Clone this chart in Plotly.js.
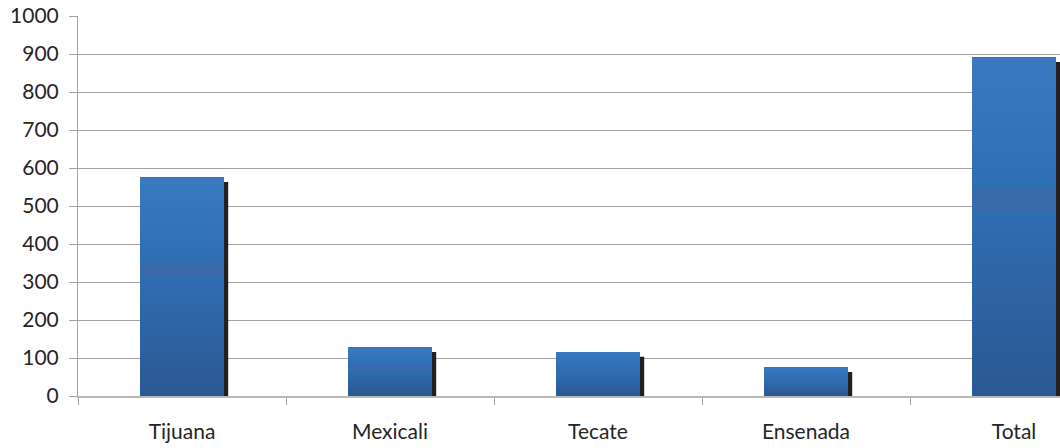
<!DOCTYPE html>
<html>
<head>
<meta charset="utf-8">
<script src="https://cdn.plot.ly/plotly-3.0.1.min.js"></script>
<style>
  html, body { margin: 0; padding: 0; background: #fff; }
  #chart { width: 1060px; height: 448px; }
</style>
</head>
<body>
<div id="chart"></div>
<script>
// Municipalities of Baja California and their total
const categories = ['Tijuana', 'Mexicali', 'Tecate', 'Ensenada', 'Total'];
const values = [576, 129, 116, 76, 892];
const yTicks = [0, 100, 200, 300, 400, 500, 600, 700, 800, 900, 1000];

const barWidth = 0.404;          // fraction of a category slot
const shadowShift = 0.02;        // drop shadow offset to the right (category units)
const shadowDrop = 13;           // drop shadow offset downwards (value units)

const fontFamily = 'Lato, "Open Sans", sans-serif';
const gridGrey = '#a3a3a3';

const shadow = {
  type: 'bar',
  x: categories,
  y: values.map(v => v - shadowDrop),
  width: barWidth,
  offset: -barWidth / 2 + shadowShift,
  marker: { color: '#231f20', line: { width: 0 } },
  hoverinfo: 'skip'
};

const bars = {
  type: 'bar',
  x: categories,
  y: values,
  width: barWidth,
  offset: -barWidth / 2,
  marker: { color: '#3170b3', line: { width: 0 } }
};

const layout = {
  width: 1060,
  height: 448,
  margin: { l: 78, r: 0, t: 16, b: 52 },
  paper_bgcolor: '#ffffff',
  plot_bgcolor: '#ffffff',
  barmode: 'overlay',
  showlegend: false,
  font: { family: fontFamily, size: 21, color: '#262626' },
  xaxis: {
    type: 'category',
    range: [-0.5, 4.221],
    showgrid: false,
    zeroline: false,
    showline: true,
    linecolor: '#b8b8b8',
    linewidth: 1.5,
    ticks: 'outside',
    tickson: 'boundaries',
    ticklen: 7,
    tickcolor: gridGrey,
    tickwidth: 1,
    ticklabelstandoff: 16,
    tickfont: { family: fontFamily, size: 21, color: '#262626' }
  },
  yaxis: {
    range: [0, 1000],
    tickvals: yTicks,
    ticktext: yTicks.map(String),
    showgrid: true,
    gridcolor: gridGrey,
    gridwidth: 1,
    zeroline: false,
    showline: true,
    linecolor: gridGrey,
    ticks: 'outside',
    ticklen: 8,
    tickcolor: gridGrey,
    ticklabelstandoff: 6,
    tickfont: { family: fontFamily, size: 21, color: '#262626' }
  }
};

Plotly.newPlot('chart', [shadow, bars], layout, { staticPlot: true, displayModeBar: false })
  .then(gd => {
    // Vertical gradient fill for the blue columns
    const svgNS = 'http://www.w3.org/2000/svg';
    const svg = gd.querySelector('svg.main-svg');
    let defs = svg.querySelector('defs');
    if (!defs) { defs = document.createElementNS(svgNS, 'defs'); svg.insertBefore(defs, svg.firstChild); }
    const grad = document.createElementNS(svgNS, 'linearGradient');
    grad.setAttribute('id', 'columnFill');
    grad.setAttribute('x1', '0'); grad.setAttribute('y1', '0');
    grad.setAttribute('x2', '0'); grad.setAttribute('y2', '1');
    const stops = [
      [0, '#3979c1'], [0.385, '#2e6fb4'], [0.392, '#3a6aab'],
      [0.452, '#3a6aab'], [0.46, '#2f6db2'], [1, '#2b5891']
    ];
    stops.forEach(([o, c]) => {
      const s = document.createElementNS(svgNS, 'stop');
      s.setAttribute('offset', o);
      s.setAttribute('stop-color', c);
      grad.appendChild(s);
    });
    defs.appendChild(grad);
    const traces = gd.querySelectorAll('.barlayer .trace');
    traces[traces.length - 1].querySelectorAll('path').forEach(p => {
      p.style.fill = 'url(#columnFill)';
    });
  });
</script>
</body>
</html>
